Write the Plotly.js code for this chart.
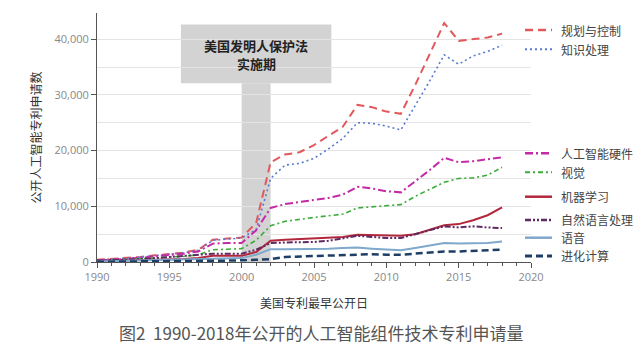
<!DOCTYPE html>
<html>
<head>
<meta charset="utf-8">
<script src="https://cdn.plot.ly/plotly-3.0.1.min.js"></script>
<style>html,body{margin:0;padding:0;background:#fff;}#chart{width:642px;height:357px;}</style>
</head>
<body>
<div id="chart"></div>
<script>
const years = [1990,1991,1992,1993,1994,1995,1996,1997,1998,1999,2000,2001,2002,2003,2004,2005,2006,2007,2008,2009,2010,2011,2012,2013,2014,2015,2016,2017,2018];
const seriesNames = ["规划与控制","知识处理","人工智能硬件","视觉","机器学习","自然语言处理","语音","进化计算"];
const planning  = [400,550,700,900,1200,1500,1700,2200,4000,4200,4400,7000,17900,19300,19700,21000,22700,24300,28200,27800,27000,26600,31800,37200,42900,39700,40000,40300,41000];
const knowledge = [350,500,650,850,1150,1450,1650,2100,3900,4100,4300,5800,15000,17400,17700,18600,20300,22200,25000,24900,24400,23700,28000,32500,37200,35500,37000,37800,38900];
const hardware  = [300,400,550,750,1000,1300,1500,1900,3300,3400,3400,5700,9700,10400,10800,11100,11500,12100,13500,13200,12700,12500,14500,16500,18700,17900,18100,18400,18800];
const vision    = [200,300,400,500,700,900,1000,1300,2200,2300,2400,3900,6500,7300,7700,8000,8300,8600,9700,9900,10100,10300,11800,13100,14300,15000,15100,15600,17000];
const ml        = [150,200,250,300,400,500,550,700,1100,1100,1100,1800,3800,4000,4100,4200,4300,4500,4900,4800,4700,4700,5000,5800,6600,6800,7500,8400,9800];
const nlp       = [250,300,400,500,700,900,1000,1200,1500,1500,1500,2200,3400,3500,3500,3600,3800,4200,4700,4500,4300,4300,5000,5700,6400,6200,6400,6200,6100];
const speech    = [100,150,200,250,300,350,400,450,600,600,700,1300,2300,2300,2300,2300,2400,2500,2600,2400,2200,2100,2500,3000,3400,3300,3300,3400,3700];
const evo       = [50,60,80,100,120,150,170,200,250,250,300,350,500,900,1000,1000,1100,1200,1400,1400,1300,1300,1500,1700,1900,1900,2000,2100,2200];
const allSeries = [planning, knowledge, hardware, vision, ml, nlp, speech, evo];

const lawPeriod = [2000, 2002];
const lawBoxX = [1995.8, 2006.2];
const lawBoxY = [32100, 42650];
const lawTextLines = ["<b>美国发明人保护法</b>", "<b>实施期</b>"];
const lawTextY = [38800, 35600];

const colors = ["#e2585c","#5a79d0","#c42aa6","#3cab3c","#b3273c","#5e2a62","#7ea8cc","#1f3e66"];
const dashes = ["8px,5px","2px,3px","8px,3px,2px,3px","5px,3px,2px,3px","solid","6px,2px,2px,2px,2px,2px","solid","7px,4px"];
const widths = [2,1.6,2,1.6,2,2,2,2.5];
// legend layout (paper coordinates)
const legendY = [0.9317,0.8542,0.4365,0.3602,0.2622,0.1687,0.0976,0.0241];
const legendSampleX = [0.9862, 1.0484];
const legendTextX = 1.0645;

const CJK = '"Noto Sans CJK SC", "Open Sans", sans-serif';
const traces = allSeries.map((vals, i) => ({
  type: 'scatter', mode: 'lines', x: years, y: vals, name: seriesNames[i],
  line: {color: colors[i], dash: dashes[i], width: widths[i]},
  showlegend: false,
  hoverinfo: 'skip'
}));

const layout = {
  width: 642, height: 357,
  margin: {l: 97, r: 111, t: 13, b: 95},
  paper_bgcolor: '#fff', plot_bgcolor: '#fff',
  font: {family: CJK, color: '#444'},
  showlegend: false,
  xaxis: {
    range: [1990, 2020], dtick: 5, tick0: 1990,
    ticks: 'outside', ticklen: 5, tickcolor: '#555',
    showline: true, linecolor: '#555', linewidth: 1,
    showgrid: false, zeroline: false,
    tickfont: {family: '"Open Sans", sans-serif', size: 11, color: '#888'},
    minor: {dtick: 1, ticks: 'outside', ticklen: 3, tickcolor: '#555'},
    title: {text: '美国专利最早公开日', font: {size: 12, color: '#333'}, standoff: 16}
  },
  yaxis: {
    range: [0, 44700], dtick: 10000, tickformat: ',d',
    ticks: 'outside', ticklen: 5, tickcolor: '#555',
    showline: true, linecolor: '#555', linewidth: 1,
    showgrid: true, gridcolor: '#e4e4e4', zeroline: false,
    tickfont: {family: '"Open Sans", sans-serif', size: 11, color: '#888'},
    minor: {dtick: 5000, showgrid: true, gridcolor: '#e4e4e4', ticks: ''},
    title: {text: '公开人工智能专利申请数', font: {size: 12, color: '#333'}, standoff: 10}
  },
  shapes: [
    {type: 'rect', xref: 'x', yref: 'y', x0: lawPeriod[0], x1: lawPeriod[1], y0: 0, y1: lawBoxY[0], fillcolor: '#d3d3d3', line: {width: 0}, layer: 'below'},
    {type: 'rect', xref: 'x', yref: 'y', x0: lawBoxX[0], x1: lawBoxX[1], y0: lawBoxY[0], y1: lawBoxY[1], fillcolor: '#d3d3d3', line: {width: 0}, layer: 'below'}
  ],
  annotations: [
    {xref: 'paper', yref: 'paper', x: 0.516, y: -0.285, yanchor: 'middle', xanchor: 'center', text: '图2  1990-2018年公开的人工智能组件技术专利申请量', showarrow: false, font: {size: 17, color: '#555'}}
  ]
};
lawTextLines.forEach((t, i) => {
  layout.annotations.push({xref: 'x', yref: 'y', x: (lawBoxX[0] + lawBoxX[1]) / 2, y: lawTextY[i], text: t, showarrow: false, font: {size: 13, color: '#222'}, align: 'center', yanchor: 'middle'});
});
// custom legend: sample lines + labels
seriesNames.forEach((name, i) => {
  layout.shapes.push({type: 'line', xref: 'paper', yref: 'paper', x0: legendSampleX[0], x1: legendSampleX[1], y0: legendY[i], y1: legendY[i],
    line: {color: colors[i], dash: dashes[i], width: widths[i] + 0.5}});
  layout.annotations.push({xref: 'paper', yref: 'paper', x: legendTextX, y: legendY[i], xanchor: 'left', yanchor: 'middle',
    text: name, showarrow: false, font: {size: 12, color: '#444'}});
});

Plotly.newPlot('chart', traces, layout, {displayModeBar: false, staticPlot: true});
</script>
</body>
</html>
